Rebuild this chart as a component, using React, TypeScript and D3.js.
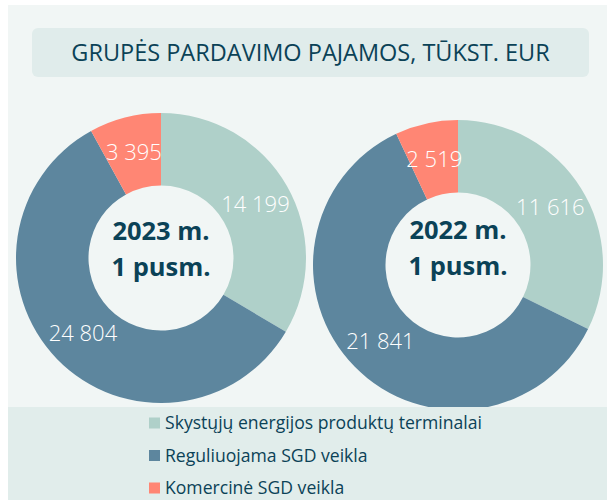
import React from "react";
import * as d3 from "d3";

const categories = [
  "Skystųjų energijos produktų terminalai",
  "Reguliuojama SGD veikla",
  "Komercinė SGD veikla",
];
const values2023 = [14199, 24804, 3395];
const values2022 = [11616, 21841, 2519];
const periods = ["2023 m.", "2022 m."];
const periodSub = "1 pusm.";
const title = "GRUPĖS PARDAVIMO PAJAMOS, TŪKST. EUR";
const colors = ["#afd0c9", "#5d869e", "#ff8674"];

const W = 607;
const H = 500;
const FONT = "'Open Sans', 'Noto Sans', sans-serif";
const TEXT = "#0b4257";

const fmt = (v: number) => d3.format(",")(v).replace(/,/g, " ");

function Donut({ values, cx, cy, label, textDy }: { values: number[]; cx: number; cy: number; label: string; textDy: number }) {
  const rOuter = 145;
  const rInner = 72.5;
  const pie = d3.pie<number>().sort(null).value((d) => d);
  const arc = d3.arc<d3.PieArcDatum<number>>().innerRadius(rInner).outerRadius(rOuter);
  const arcs = pie(values);
  return (
    <g transform={`translate(${cx},${cy})`}>
      {arcs.map((a, i) => (
        <path key={i} d={arc(a) || ""} fill={colors[i]} />
      ))}
      {arcs.map((a, i) => {
        const [x, y] = arc.centroid(a);
        return (
          <text key={"t" + i} x={x} y={y} dy="0.35em" textAnchor="middle" fill="#ffffff"
            style={{ fontFamily: FONT, fontSize: 22, fontWeight: 300 }}>
            {fmt(a.data)}
          </text>
        );
      })}
      <text textAnchor="middle" fill={TEXT} style={{ fontFamily: FONT, fontSize: 25.5, fontWeight: 700 }}>
        <tspan x={0} y={textDy}>{label}</tspan>
        <tspan x={0} y={textDy + 36}>{periodSub}</tspan>
      </text>
    </g>
  );
}

export default function App() {
  return (
    <svg width={W} height={H} style={{ position: "absolute", left: 0, top: 0 }}>
      <rect x={0} y={0} width={W} height={H} fill="#ffffff" />
      <rect x={8} y={5} width={W - 8} height={H - 5} fill="#f1f6f5" />
      <rect x={32} y={28} width={557} height={49} rx={6} fill="#e0eceb" />
      <text x={310.5} y={53} dy="0.35em" textAnchor="middle" fill={TEXT}
        style={{ fontFamily: FONT, fontSize: 23.5 }}>
        {title}
      </text>
      <Donut values={values2023} cx={161} cy={258} label={periods[0]} textDy={-18} />
      <Donut values={values2022} cx={458} cy={265} label={periods[1]} textDy={-26} />
      <rect x={8} y={407} width={W - 8} height={H - 407} fill="#e1edeb" />
      {categories.map((c, i) => (
        <g key={c} transform={`translate(149,${423 + i * 32.5})`}>
          <rect x={0} y={-5.5} width={11} height={11} fill={colors[i]} />
          <text x={16} y={0} dy="0.35em" fill={TEXT} style={{ fontFamily: FONT, fontSize: 17.6 }}>
            {c}
          </text>
        </g>
      ))}
    </svg>
  );
}
